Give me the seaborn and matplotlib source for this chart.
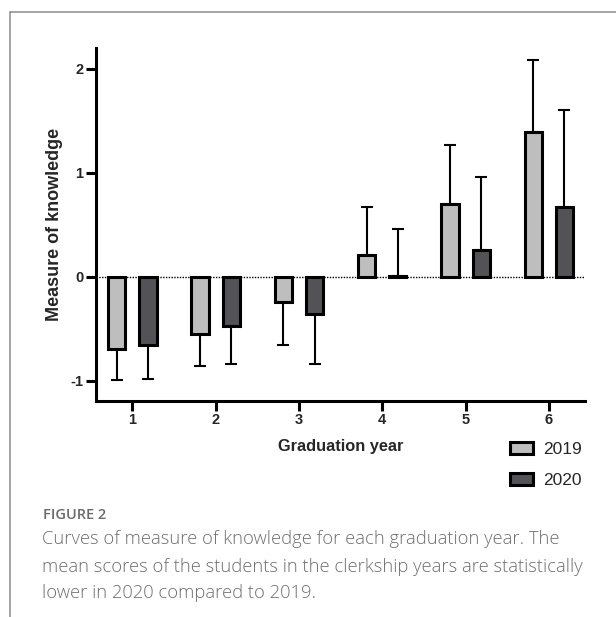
import matplotlib
matplotlib.use("Agg")
import matplotlib.pyplot as plt
from matplotlib.lines import Line2D
import seaborn as sns
import pandas as pd
import numpy as np

# ---- data ----
years = ["1", "2", "3", "4", "5", "6"]
series = ["2019", "2020"]
mean_2019 = [-0.69, -0.55, -0.24, 0.21, 0.70, 1.39]
sd_2019 = [0.30, 0.31, 0.41, 0.46, 0.57, 0.69]
mean_2020 = [-0.65, -0.47, -0.36, 0.01, 0.26, 0.67]
sd_2020 = [0.33, 0.37, 0.48, 0.45, 0.70, 0.93]
yticks = [-1, 0, 1, 2]
caption_title = "FIGURE 2"
caption_lines = [
    "Curves of measure of knowledge for each graduation year. The",
    "mean scores of the students in the clerkship years are statistically",
    "lower in 2020 compared to 2019.",
]

df = pd.DataFrame({
    "year": years * 2,
    "group": ["2019"] * len(years) + ["2020"] * len(years),
    "value": mean_2019 + mean_2020,
})

sns.set_style("ticks")
plt.rcParams["font.family"] = ["Liberation Sans", "DejaVu Sans"]

W, H = 616, 617
fig = plt.figure(figsize=(W / 100, H / 100), dpi=100)
fig.patch.set_facecolor("white")

ax_l, ax_r, ax_t, ax_b = 96, 585, 48, 400.7
ax = fig.add_axes([ax_l / W, 1 - ax_b / H, (ax_r - ax_l) / W, (ax_b - ax_t) / H])

palette = {"2019": "#bebebe", "2020": "#525257"}
sns.barplot(data=df, x="year", y="value", hue="group", order=years,
            hue_order=series, palette=palette, errorbar=None,
            width=0.75, gap=0.45, edgecolor="black", linewidth=2.2,
            saturation=1, ax=ax, zorder=3, legend=False)

bar_containers = list(ax.containers)

# one-sided error bars (away from zero)
sds = [sd_2019, sd_2020]
for cont, sd in zip(bar_containers, sds):
    for patch, s in zip(cont.patches, sd):
        xc = patch.get_x() + patch.get_width() / 2
        h = patch.get_height()
        if h < 0:
            yerr = [[s], [0]]
        else:
            yerr = [[0], [s]]
        ax.errorbar([xc], [h], yerr=yerr, fmt="none", ecolor="black",
                    elinewidth=1.5, capsize=4.3, capthick=1.5, zorder=2)

ax.axhline(0, color="black", lw=1.0, ls=(0, (1, 1)), zorder=1)

ax.set_ylim(-1.19, 2.2)
ax.set_xlim(-0.436, 5.434)
ax.set_yticks(yticks)
ax.set_yticklabels([str(t) for t in yticks])

for side in ["top", "right"]:
    ax.spines[side].set_visible(False)
for side in ["left", "bottom"]:
    ax.spines[side].set_linewidth(2.2)
    ax.spines[side].set_color("black")
    ax.spines[side].set_capstyle("projecting")

ax.tick_params(axis="both", width=2.2, length=7, color="black", pad=2)
for lab in ax.get_xticklabels() + ax.get_yticklabels():
    lab.set_fontweight("bold")
    lab.set_fontsize(10.5)

ax.set_ylabel("Measure of knowledge", fontsize=13, fontweight="bold")
ax.yaxis.set_label_coords(-0.068, 0.5)
ax.set_xlabel("Graduation year", fontsize=11.8, fontweight="bold", va="top")
ax.xaxis.set_label_coords(0.5, -0.11)

leg = ax.legend(bar_containers, series, frameon=False, loc="upper left",
                bbox_to_anchor=(510 / W, 1 - 442 / H),
                bbox_transform=fig.transFigure, borderpad=0, borderaxespad=0,
                fontsize=12.5, handlelength=1.3, handleheight=0.62,
                handletextpad=0.6, labelspacing=0.93)

# frame lines of the figure panel
fig.add_artist(Line2D([9.7 / W, 1.0], [1 - 12.3 / H, 1 - 12.3 / H],
                      transform=fig.transFigure, color="#8c8c8c", lw=1.1))
fig.add_artist(Line2D([9.7 / W, 9.7 / W], [0, 1 - 12.3 / H],
                      transform=fig.transFigure, color="#8c8c8c", lw=1.1))

fig.text(43 / W, 1 - 515 / H, caption_title, ha="left", va="center",
         fontsize=10.5, color="#6a6a6a", family=["Open Sans", "DejaVu Sans"],
         fontweight="semibold")
for i, line in enumerate(caption_lines):
    fig.text(42 / W, 1 - (539.5 + 27 * i) / H, line, ha="left", va="center",
             fontsize=13.2, color="#6e6e6e",
             family=["Open Sans", "DejaVu Sans"], fontweight="light")

fig.savefig("out.png", dpi=100, facecolor="white")
